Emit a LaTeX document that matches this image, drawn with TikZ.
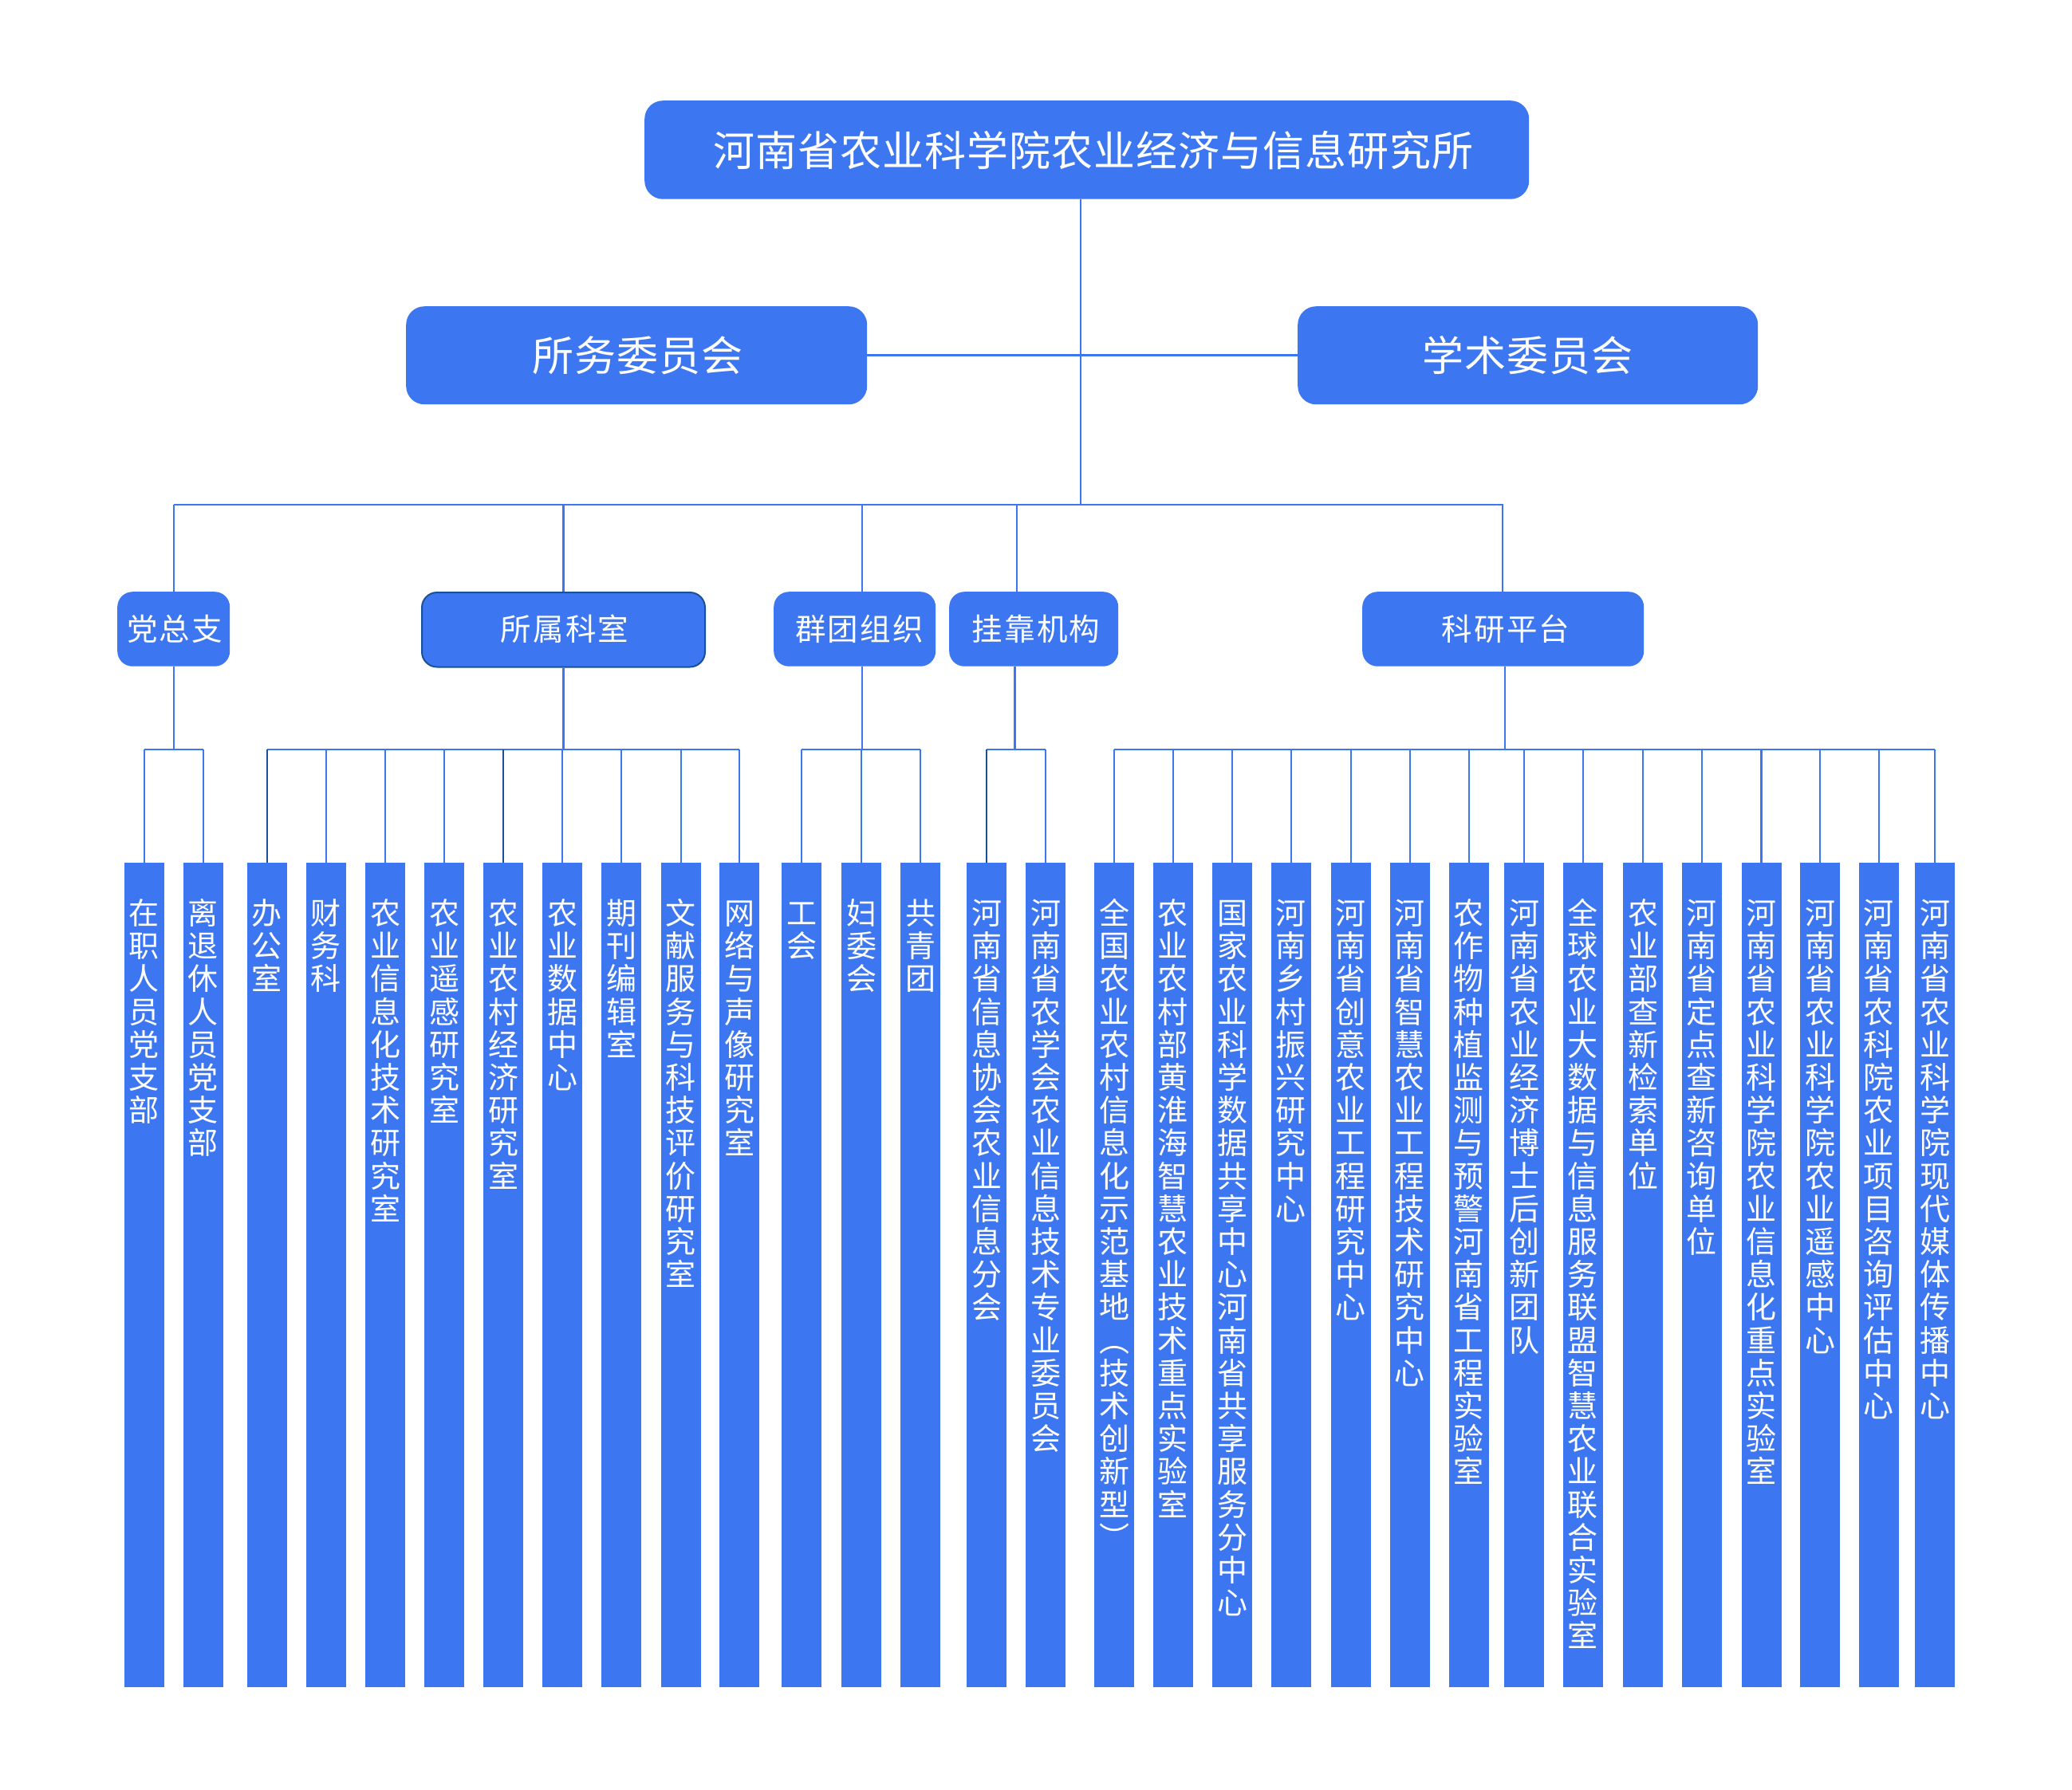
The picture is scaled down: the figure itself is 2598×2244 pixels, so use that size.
\documentclass[tikz,border=0pt]{standalone}
\usepackage{fontspec}
\newfontfamily\cjk{Noto Sans CJK SC}
\definecolor{mainblue}{RGB}{60,119,241}
\definecolor{darkblue}{RGB}{26,80,150}
\makeatletter
% vertical stack of characters
\def\vt@loop#1{\ifx#1\@nil\else\hbox to 46pt{\hss#1\hss}\expandafter\vt@loop\fi}
\newcommand\vtxt[1]{\vtop{\baselineskip=41.2pt\lineskip=0pt\lineskiplimit=-200pt\vt@loop#1\@nil}}
% letter spaced horizontal text
\def\ls@first#1{\ifx#1\@nil\else#1\expandafter\ls@next\fi}
\def\ls@next#1{\ifx#1\@nil\else\kern\ls@sp\relax#1\expandafter\ls@next\fi}
\newcommand\lspaced[2]{\def\ls@sp{#2}\ls@first#1\@nil}
\makeatother
\tikzset{
  boxbig/.style={fill=mainblue, draw=none, rounded corners=23pt, inner sep=0pt, anchor=north west},
  boxmid/.style={fill=mainblue, draw=none, rounded corners=19pt, inner sep=0pt, anchor=north west, minimum height=93.5pt},
  colbox/.style={fill=mainblue, draw=none, inner sep=0pt, anchor=north west, minimum width=50pt, minimum height=1034pt},
  coltext/.style={text=white, inner sep=0pt, anchor=base, font=\cjk\fontsize{38pt}{41.2pt}\selectfont},
  labbig/.style={text=white, inner sep=0pt, anchor=base, font=\cjk\fontsize{52pt}{60pt}\selectfont},
  labmid/.style={text=white, inner sep=0pt, anchor=base, font=\cjk\fontsize{38.5pt}{44pt}\selectfont},
  conn/.style={draw=mainblue, line width=2.1pt},
  conndark/.style={draw=darkblue, line width=2.1pt},
}
\newcommand\mkcol[3]{%
  \node[colbox] (#1) at (#2,1082) {};
  \node[coltext] (#1t) at ({#2+25},1159.5) {\vtxt{#3}};
}
\begin{document}
\begin{tikzpicture}[x=1pt,y=-1pt]
\useasboundingbox (0,0) rectangle (2598,2244);
\fill[white] (0,0) rectangle (2598,2244);

% ---- top level
\node[boxbig, minimum width=1109pt, minimum height=123.5pt] (title) at (808,126) {};
\node[labbig] (titlet) at (1371,208) {\lspaced{河南省农业科学院农业经济与信息研究所}{1pt}};

\node[boxbig, minimum width=578pt, minimum height=123pt] (sw) at (509,384) {};
\node[labbig] (swt) at (799.5,465.6) {\lspaced{所务委员会}{1pt}};
\node[boxbig, minimum width=577pt, minimum height=123pt] (xs) at (1627,384) {};
\node[labbig] (xst) at (1915.5,465.6) {\lspaced{学术委员会}{1pt}};

% ---- second level
\node[boxmid, minimum width=141pt] (dzz) at (147,742) {};
\node[boxmid, minimum width=355pt, draw=darkblue, line width=2pt] (ssk) at (528,742) {};
\node[boxmid, minimum width=203pt] (qt) at (970,742) {};
\node[boxmid, minimum width=212pt] (gk) at (1190,742) {};
\node[boxmid, minimum width=353pt] (ky) at (1708,742) {};

\node[labmid] (dzzt) at (219,803.5) {\lspaced{党总支}{2.2pt}};
\node[labmid] (sskt) at (708,803.5) {\lspaced{所属科室}{2.2pt}};
\node[labmid] (qtt) at (1077.5,803.5) {\lspaced{群团组织}{2.2pt}};
\node[labmid] (gkt) at (1299,803.5) {\lspaced{挂靠机构}{2.2pt}};
\node[labmid] (kyt) at (1888,803.5) {\lspaced{科研平台}{2.2pt}};

% ---- columns
\mkcol{c1}{155.7}{在职人员党支部}
\mkcol{c2}{229.7}{离退休人员党支部}
\mkcol{c3}{309.7}{办公室}
\mkcol{c4}{383.7}{财务科}
\mkcol{c5}{458}{农业信息化技术研究室}
\mkcol{c6}{532}{农业遥感研究室}
\mkcol{c7}{606}{农业农村经济研究室}
\mkcol{c8}{680}{农业数据中心}
\mkcol{c9}{754}{期刊编辑室}
\mkcol{c10}{828.4}{文献服务与科技评价研究室}
\mkcol{c11}{902.2}{网络与声像研究室}
\mkcol{c12}{980}{工会}
\mkcol{c13}{1055}{妇委会}
\mkcol{c14}{1129}{共青团}
\mkcol{c15}{1212}{河南省信息协会农业信息分会}
\mkcol{c16}{1286}{河南省农学会农业信息技术专业委员会}
\mkcol{c17}{1372}{全国农业农村信息化示范基地︵技术创新型︶}
\mkcol{c18}{1445.7}{农业农村部黄淮海智慧农业技术重点实验室}
\mkcol{c19}{1520.2}{国家农业科学数据共享中心河南省共享服务分中心}
\mkcol{c20}{1593.9}{河南乡村振兴研究中心}
\mkcol{c21}{1668.4}{河南省创意农业工程研究中心}
\mkcol{c22}{1742.9}{河南省智慧农业工程技术研究中心}
\mkcol{c23}{1816.6}{农作物种植监测与预警河南省工程实验室}
\mkcol{c24}{1886.1}{河南省农业经济博士后创新团队}
\mkcol{c25}{1959.8}{全球农业大数据与信息服务联盟智慧农业联合实验室}
\mkcol{c26}{2035}{农业部查新检索单位}
\mkcol{c27}{2108.8}{河南省定点查新咨询单位}
\mkcol{c28}{2183.3}{河南省农业科学院农业信息化重点实验室}
\mkcol{c29}{2257}{河南省农业科学院农业遥感中心}
\mkcol{c30}{2330.6}{河南省农科院农业项目咨询评估中心}
\mkcol{c31}{2401}{河南省农业科学院现代媒体传播中心}

% ---- connectors, top
\coordinate (jt) at (1355,632.7);
\coordinate (jb) at (1355,940);
\draw[conn] (title.south -| jt) -- (jt);
\draw[conn, line width=2.6pt] (sw.east) -- (xs.west);
\draw[conn] (dzz.north |- jt) -- (ky.north |- jt);
\draw[conn] (dzz.north |- jt) -- (dzz.north);
\draw[conn] (ssk.north |- jt) -- (ssk.north);
\draw[conn] ([xshift=9pt]qt.north |- jt) -- ([xshift=9pt]qt.north);
\draw[conn] ([xshift=-21pt]gk.north |- jt) -- ([xshift=-21pt]gk.north);
\draw[conn] ([xshift=-1pt]ky.north |- jt) -- ([xshift=-1pt]ky.north);

% ---- connectors, bottom
\draw[conn] (dzz.south) -- (dzz.south |- jb);
\draw[conn] (ssk.south) -- (ssk.south |- jb);
\draw[conn] ([xshift=9pt]qt.south) -- ([xshift=9pt]qt.south |- jb);
\draw[conn] ([xshift=-23.7pt]gk.south) -- ([xshift=-23.7pt]gk.south |- jb);
\draw[conn] ([xshift=2.2pt]ky.south) -- ([xshift=2.2pt]ky.south |- jb);

\draw[conn] (c1.north |- jb) -- (c2.north |- jb);
\draw[conn] (c3.north |- jb) -- (c11.north |- jb);
\draw[conn] (c12.north |- jb) -- (c14.north |- jb);
\draw[conn] (c15.north |- jb) -- (c16.north |- jb);
\draw[conn] (c17.north |- jb) -- (c31.north |- jb);

\foreach \c in {c1,c2,c4,c5,c6,c8,c9,c10,c11,c12,c13,c14,c16,c17,c18,c19,c20,c21,c22,c23,c24,c25,c26,c27,c28,c29,c30,c31}
  \draw[conn] (\c.north |- jb) -- (\c.north);
\foreach \c in {c3,c7,c15}
  \draw[conndark] (\c.north |- jb) -- (\c.north);
\end{tikzpicture}
\end{document}
